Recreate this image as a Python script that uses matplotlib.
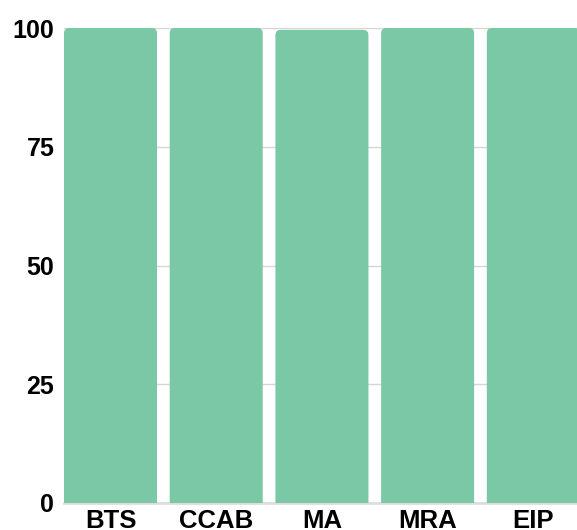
import matplotlib
matplotlib.use("Agg")
import matplotlib.pyplot as plt
from matplotlib.patches import FancyBboxPatch

categories = ["BTS", "CCAB", "MA", "MRA", "EIP"]
values = [100, 100, 99.6, 100, 100]
yticks = [0, 25, 50, 75, 100]

bar_color = "#7bc8a6"
bar_width = 0.88

plt.rcParams['font.family'] = ['Liberation Sans', 'DejaVu Sans']

fig = plt.figure(figsize=(5.77, 5.30), dpi=100)
ax = fig.add_axes([64 / 577, 27 / 530, 1 - 64 / 577, 475 / 530])

ax.set_xlim(-0.44, 4.413)
ax.set_ylim(0, 100)

# rounded top corners, bottom pushed below 0 and clipped
for i, v in enumerate(values):
    box = FancyBboxPatch((i - bar_width / 2, -5), bar_width, v + 5,
                         boxstyle="round,pad=0,rounding_size=0.05",
                         mutation_aspect=22,
                         facecolor=bar_color, edgecolor="none", zorder=3)
    ax.add_patch(box)

ax.set_yticks(yticks)
ax.set_yticklabels([str(t) for t in yticks], fontsize=18, fontweight="bold")
ax.set_xticks(range(len(categories)))
ax.set_xticklabels(categories, fontsize=18.5, fontweight="bold")
ax.tick_params(axis="y", length=0, pad=7)
ax.tick_params(axis="x", length=0, pad=4)

ax.grid(axis="y", color="#d6d6d6", linewidth=1, zorder=0)
ax.set_axisbelow(True)
for s in ax.spines.values():
    s.set_visible(False)
ax.axhline(0, color="#dddddd", linewidth=2, zorder=1, clip_on=False)

fig.savefig("out.png", dpi=100)
